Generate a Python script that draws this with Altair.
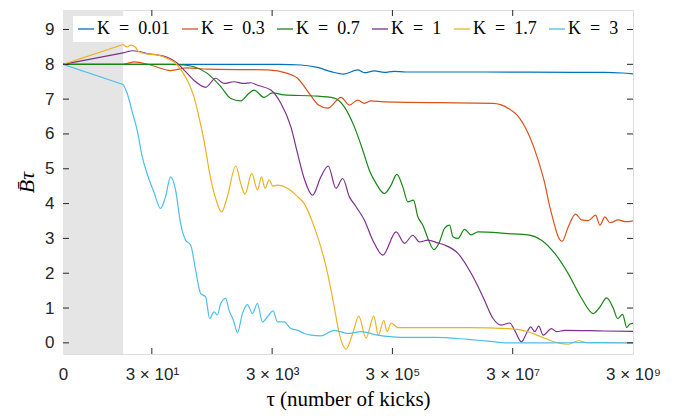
import altair as alt
import pandas as pd

# ---- data (log10 of tau, mean B) ----
lt_001 = [0, 1.0, 3.6, 3.96, 4.233, 4.455, 4.667, 4.9, 5.01, 5.177, 5.343, 5.5, 5.7, 6.0, 7.0, 8.5, 9.0, 9.3, 9.493]
b_001 = [8.0, 8.0, 8.0, 7.98, 7.91, 7.79, 7.72, 7.84, 7.76, 7.81, 7.77, 7.80, 7.78, 7.78, 7.78, 7.77, 7.77, 7.75, 7.72]

lt_03 = [0, 1.0, 1.122, 1.178, 1.455, 1.79, 2.067, 2.4, 3.4, 3.733, 3.9, 4.1, 4.25, 4.40, 4.622, 4.76, 4.90,
         5.01, 5.122, 5.343, 7.15, 7.40, 7.593, 7.76, 7.9, 8.01, 8.093, 8.15, 8.233, 8.30, 8.40, 8.522, 8.622,
         8.733, 8.855, 8.927, 9.01, 9.093, 9.233, 9.35, 9.493]
b_03 = [8.0, 8.0, 8.05, 8.07, 7.98, 7.82, 7.90, 7.86, 7.84, 7.74, 7.6, 7.15, 6.83, 6.74, 7.05, 6.83, 6.97,
        6.88, 6.95, 6.92, 6.88, 6.74, 6.45, 5.92, 5.25, 4.58, 3.91, 3.53, 3.05, 2.92, 3.33, 3.70, 3.53,
        3.51, 3.67, 3.38, 3.62, 3.45, 3.53, 3.48, 3.51]

lt_07 = [0, 1.0, 1.788, 2.01, 2.177, 2.4, 2.622, 2.788, 2.955, 3.093, 3.177, 3.343, 3.483, 3.677, 4.177,
         4.51, 4.677, 4.843, 4.983, 5.093, 5.205, 5.343, 5.455, 5.55, 5.65, 5.733, 5.827, 5.90, 5.983,
         6.067, 6.167, 6.26, 6.343, 6.427, 6.483, 6.567, 6.677, 6.788, 6.90, 7.40, 7.733, 7.955, 8.177,
         8.40, 8.622, 8.817, 8.927, 9.038, 9.15, 9.222, 9.305, 9.372, 9.427, 9.493]
b_07 = [8.0, 8.0, 8.0, 7.98, 7.93, 7.74, 7.36, 7.02, 6.95, 7.17, 7.26, 7.05, 7.18, 7.12, 7.09,
        7.03, 6.78, 6.21, 5.54, 4.96, 4.58, 4.29, 4.53, 4.84, 4.48, 4.05, 4.10, 3.62, 3.38,
        3.0, 2.68, 2.9, 3.29, 3.38, 3.05, 3.0, 3.26, 3.1, 3.19, 3.14, 3.1, 2.95, 2.57,
        1.99, 1.28, 0.84, 1.03, 1.29, 0.99, 0.70, 0.82, 0.44, 0.54, 0.56]

lt_1 = [0, 1.0, 1.067, 1.15, 1.288, 1.427, 1.567, 1.733, 1.872, 2.038, 2.205, 2.372, 2.538, 2.677, 2.843,
        3.01, 3.122, 3.233, 3.455, 3.622, 3.788, 3.90, 4.01, 4.15, 4.288, 4.41, 4.538, 4.65, 4.76, 4.872,
        5.01, 5.15, 5.317, 5.538, 5.677, 5.817, 5.927, 6.067, 6.233, 6.343, 6.567, 6.788, 6.983, 7.15,
        7.288, 7.427, 7.51, 7.622, 7.705, 7.777, 7.843, 7.91, 7.983, 8.122, 8.205, 8.343, 9.0, 9.493]
b_1 = [8.0, 8.33, 8.36, 8.39, 8.36, 8.30, 8.27, 8.20, 8.07, 7.79, 7.5, 7.34, 7.6, 7.45, 7.5,
       7.45, 7.47, 7.40, 7.26, 6.88, 6.21, 5.44, 4.72, 4.24, 4.77, 5.08, 4.44, 4.72, 4.2, 3.91,
       3.53, 2.95, 2.52, 3.19, 2.86, 3.09, 2.9, 2.95, 2.87, 2.81, 2.57, 1.99, 1.32, 0.70,
       0.51, 0.57, 0.36, 0.03, 0.27, 0.46, 0.32, 0.48, 0.22, 0.41, 0.32, 0.36, 0.34, 0.33]

lt_17 = [0, 1.0, 1.067, 1.122, 1.205, 1.26, 1.40, 1.567, 1.733, 1.872, 1.983, 2.093, 2.177, 2.26, 2.343,
         2.45, 2.538, 2.638, 2.733, 2.872, 2.955, 3.027, 3.138, 3.233, 3.30, 3.36, 3.427, 3.49, 3.567,
         3.733, 3.90, 4.01, 4.177, 4.317, 4.40, 4.51, 4.593, 4.705, 4.817, 4.917, 5.038, 5.167, 5.243,
         5.333, 5.388, 5.455, 5.567, 6.177, 6.733, 7.40, 7.733, 7.955, 8.233, 8.40, 8.567, 8.733, 9.493]
b_17 = [8.0, 8.57, 8.50, 8.55, 8.49, 8.36, 8.30, 8.27, 8.17, 8.03, 7.79, 7.45, 7.07, 6.49, 5.82,
        4.77, 4.15, 3.76, 4.2, 5.08, 4.58, 4.27, 4.87, 4.39, 4.77, 4.44, 4.68, 4.50, 4.53,
        4.44, 4.2, 4.0, 3.33, 2.57, 1.99, 1.03, 0.27, -0.18, 0.27, 0.77, 0.14, 0.77, 0.22,
        0.65, 0.32, 0.57, 0.44, 0.44, 0.44, 0.41, 0.32, 0.17, 0.0, -0.04, 0.06, 0.0, 0.0]

lt_3 = [0, 1.0, 1.067, 1.15, 1.233, 1.317, 1.40, 1.51, 1.622, 1.705, 1.788, 1.872, 1.955, 2.038, 2.122,
        2.205, 2.288, 2.372, 2.438, 2.51, 2.567, 2.622, 2.705, 2.76, 2.843, 2.90, 2.983, 3.067, 3.15,
        3.233, 3.317, 3.40, 3.493, 3.567, 3.677, 3.788, 3.90, 4.01, 4.122, 4.288, 4.51, 4.733, 4.955,
        5.233, 5.622, 6.172, 6.733, 7.067, 7.40, 7.955, 8.955, 9.493]
b_3 = [8.0, 7.42, 7.17, 6.64, 6.11, 5.35, 4.85, 4.34, 3.86, 4.2, 4.77, 4.39, 3.43, 2.95, 2.81,
       2.09, 1.42, 1.32, 0.70, 0.89, 0.80, 1.13, 1.28, 0.94, 0.60, 0.29, 0.84, 1.10, 0.84,
       1.13, 0.60, 0.75, 0.92, 0.60, 0.60, 0.41, 0.36, 0.27, 0.22, 0.20, 0.36, 0.27, 0.32,
       0.22, 0.16, 0.16, 0.10, 0.05, 0.0, 0.0, 0.01, 0.0]

labels = ["K\u2002=\u20020.01", "K\u2002=\u20020.3", "K\u2002=\u20020.7",
          "K\u2002=\u20021", "K\u2002=\u20021.7", "K\u2002=\u20023"]
colors = ["#0072BD", "#D95319", "#178617", "#7E2F8E", "#EDB120", "#4DBEEE"]
series = [(lt_001, b_001), (lt_03, b_03), (lt_07, b_07), (lt_1, b_1), (lt_17, b_17), (lt_3, b_3)]

x_ticks = [1, 30, 3000, 3e5, 3e7, 3e9]
y_ticks = list(range(10))
shade = pd.DataFrame({"x0": [1], "x1": [10]})

rows = []
for i, (lab, (lts, bs)) in enumerate(zip(labels, series)):
    for j, (l, b) in enumerate(zip(lts, bs)):
        rows.append({"tau": 10 ** l, "B": b, "K": lab, "o": i, "j": j})
df = pd.DataFrame(rows)

W, H = 570, 344
TL = 6
axc = "#262626"

xs = alt.Scale(type="log", domain=[1, 3e9], nice=False)
ys = alt.Scale(domain=[-0.32, 9.56], nice=False)
cs = alt.Scale(domain=labels, range=colors)

label_expr = ("datum.value < 2 ? '0' : datum.value < 100 ? '3 × 10¹' : datum.value < 1e4 ? '3 × 10³' : "
              "datum.value < 1e6 ? '3 × 10⁵' : datum.value < 1e8 ? '3 × 10⁷' : '3 × 10⁹'")

x_axis = alt.Axis(values=x_ticks, labelExpr=label_expr, ticks=False, domain=False, grid=False,
                  labelFlush=False, labelOverlap=False, labelFont="Liberation Sans",
                  labelFontSize=17, labelColor=axc, labelPadding=12,
                  title="τ (number of kicks)", titleFont="Liberation Serif",
                  titleFontSize=21, titleFontWeight="normal", titleColor="#000000",
                  titlePadding=6)
y_axis = alt.Axis(values=y_ticks, ticks=False, domain=False, grid=False,
                  labelOverlap=False, labelFont="Liberation Sans", labelFontSize=17,
                  labelColor=axc, labelPadding=9,
                  title="B\u0304\u03c4", titleFont="Liberation Serif", titleFontSize=22,
                  titleFontStyle="italic", titleFontWeight="normal", titleColor="#000000",
                  titlePadding=6)
legend = alt.Legend(orient="none", legendX=10, legendY=6, direction="horizontal",
                    title=None, fillColor="white", padding=4,
                    symbolType="stroke", symbolStrokeWidth=1.3, symbolSize=256,
                    labelFont="Liberation Serif", labelFontSize=18,
                    labelColor="#000000", labelOffset=2, columnPadding=9)

rect = alt.Chart(shade).mark_rect(color="#e5e5e5").encode(
    x=alt.X("x0:Q", scale=xs, axis=x_axis),
    x2="x1:Q",
    y=alt.value(0), y2=alt.value(H),
)

base = alt.Chart(df).encode(
    x=alt.X("tau:Q", scale=xs, axis=x_axis),
    y=alt.Y("B:Q", scale=ys, axis=y_axis),
    color=alt.Color("K:N", scale=cs, sort=labels, legend=legend),
    detail="o:N",
    order="j:Q",
)
# straight joins over the shaded start, smooth curve afterwards
early = base.transform_filter("datum.j <= 1").mark_line(strokeWidth=1.2, clip=True)
late = base.transform_filter("datum.j >= 1").mark_line(strokeWidth=1.2, clip=True,
                                                      interpolate="monotone")

xt = pd.DataFrame({"v": x_ticks[1:-1]})
yt = pd.DataFrame({"v": y_ticks})

tick_b = alt.Chart(xt).mark_rule(color=axc, strokeWidth=1).encode(
    x=alt.X("v:Q", scale=xs, axis=x_axis), y=alt.value(H), y2=alt.value(H - TL))
tick_t = alt.Chart(xt).mark_rule(color=axc, strokeWidth=1).encode(
    x=alt.X("v:Q", scale=xs, axis=x_axis), y=alt.value(0), y2=alt.value(TL))
tick_l = alt.Chart(yt).mark_rule(color=axc, strokeWidth=1).encode(
    y=alt.Y("v:Q", scale=ys, axis=y_axis), x=alt.value(0), x2=alt.value(TL))
tick_r = alt.Chart(yt).mark_rule(color=axc, strokeWidth=1).encode(
    y=alt.Y("v:Q", scale=ys, axis=y_axis), x=alt.value(W - TL), x2=alt.value(W))

chart = alt.layer(rect, early, late, tick_b, tick_t, tick_l, tick_r).properties(
    width=W, height=H,
    padding={"left": 55, "top": 2, "right": 40, "bottom": 58},
    autosize=alt.AutoSizeParams(type="none"),
).configure_view(stroke=axc, strokeWidth=1.2).configure(background="white")

chart.save("out.html", embed_options={"renderer": "svg", "actions": False})
